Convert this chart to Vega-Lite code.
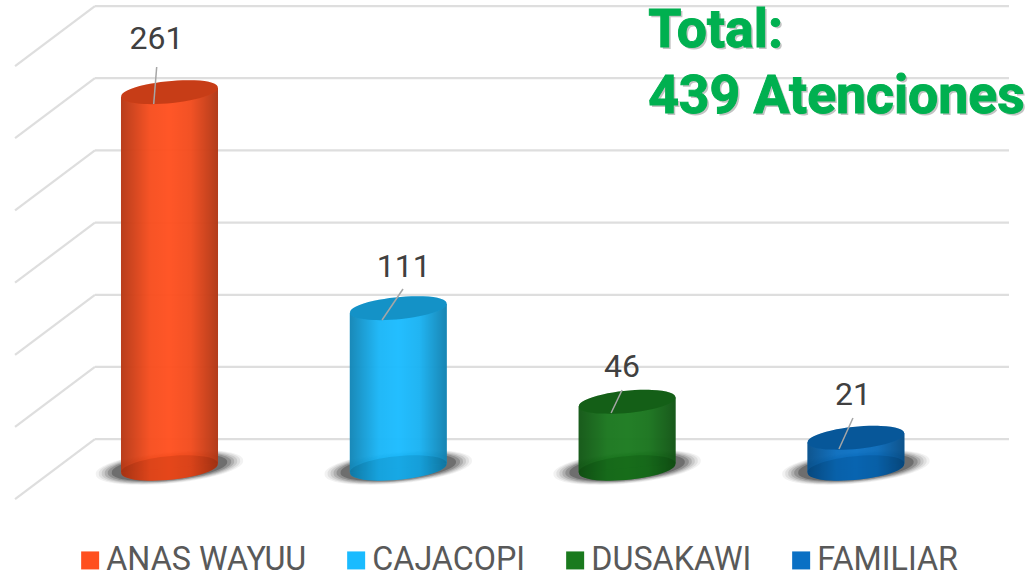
{
"$schema":"https://vega.github.io/schema/vega-lite/v6.json",
"width":1028,"height":574,"padding":0,"autosize":{"type":"none"},"background":"white",
"config":{"view":{"stroke":null},"font":"Roboto"},
"datasets":{
"bars":[{"cat":"ANAS WAYUU","pos":1,"value":261},{"cat":"CAJACOPI","pos":2,"value":111},{"cat":"DUSAKAWI","pos":3,"value":46},{"cat":"FAMILIAR","pos":4,"value":21}],
"walls":[
{"cat":"ANAS WAYUU","edge":0.788,"top":257.9,"bottom":-3.1},{"cat":"ANAS WAYUU","edge":1.212,"top":264.1,"bottom":3.1},
{"cat":"CAJACOPI","edge":1.788,"top":107.9,"bottom":-3.1},{"cat":"CAJACOPI","edge":2.212,"top":114.1,"bottom":3.1},
{"cat":"DUSAKAWI","edge":2.788,"top":42.9,"bottom":-3.1},{"cat":"DUSAKAWI","edge":3.212,"top":49.1,"bottom":3.1},
{"cat":"FAMILIAR","edge":3.788,"top":17.9,"bottom":-3.1},{"cat":"FAMILIAR","edge":4.212,"top":24.1,"bottom":3.1}],
"grid":[
{"xBack":0.674,"xRight":4.669,"xFront":0.325,"vBack":20.1,"vFront":-21.6},
{"xBack":0.674,"xRight":4.669,"xFront":0.325,"vBack":70.2,"vFront":28.5},
{"xBack":0.674,"xRight":4.669,"xFront":0.325,"vBack":120.3,"vFront":78.6},
{"xBack":0.674,"xRight":4.669,"xFront":0.325,"vBack":170.4,"vFront":128.7},
{"xBack":0.674,"xRight":4.669,"xFront":0.325,"vBack":220.6,"vFront":178.9},
{"xBack":0.674,"xRight":4.669,"xFront":0.325,"vBack":270.7,"vFront":229},
{"xBack":0.674,"xRight":4.669,"xFront":0.325,"vBack":320.8,"vFront":279.1}],
"labels":[
{"value":261,"lx":0.943,"lv":291,"x1":0.944,"v1":278.5,"x2":0.931,"v2":252.8},
{"value":111,"lx":2.0235,"lv":132.6,"x1":2.0205,"v1":124.3,"x2":1.929,"v2":102.8},
{"value":46,"lx":2.978,"lv":63,"x1":2.978,"v1":54.2,"x2":2.93,"v2":38.2},
{"value":21,"lx":3.987,"lv":43.75,"x1":3.987,"v1":34.7,"x2":3.926,"v2":13.2}],
"note":[{"line":"Total:","lx":3.092,"lv":292.4},{"line":"439 Atenciones","lx":3.092,"lv":246.5}]
},
"layer":[
{"data":{"name":"grid"},"mark":{"type":"rule","color":"#dedede","strokeWidth":2.2},
 "encoding":{"x":{"field":"xBack","type":"quantitative","axis":null,"scale":{"domain":[0.2592,4.752],"nice":false,"zero":false}},"x2":{"field":"xRight"},"y":{"field":"vBack","type":"quantitative","axis":null,"scale":{"domain":[-73.6,325],"nice":false,"zero":false}}}},
{"data":{"name":"grid"},"mark":{"type":"rule","color":"#dedede","strokeWidth":2.2},
 "encoding":{"x":{"field":"xFront","type":"quantitative"},"x2":{"field":"xBack"},"y":{"field":"vFront","type":"quantitative"},"y2":{"field":"vBack"}}},
{"data":{"name":"bars"},"mark":{"type":"point","filled":true,"opacity":0.07,"color":"#444444","shape":"M-0.995,0.09A1,0.21,-5.5,1,1,0.995,-0.09A1,0.21,-5.5,1,1,-0.995,0.09Z","size":21904},
 "encoding":{"x":{"field":"pos","type":"quantitative"},"y":{"datum":0.5,"type":"quantitative"}}},
{"data":{"name":"bars"},"mark":{"type":"point","filled":true,"opacity":0.1,"color":"#444444","shape":"M-0.995,0.09A1,0.21,-5.5,1,1,0.995,-0.09A1,0.21,-5.5,1,1,-0.995,0.09Z","size":20164},
 "encoding":{"x":{"field":"pos","type":"quantitative"},"y":{"datum":0.5,"type":"quantitative"}}},
{"data":{"name":"bars"},"mark":{"type":"point","filled":true,"opacity":0.14,"color":"#444444","shape":"M-0.995,0.09A1,0.21,-5.5,1,1,0.995,-0.09A1,0.21,-5.5,1,1,-0.995,0.09Z","size":18496},
 "encoding":{"x":{"field":"pos","type":"quantitative"},"y":{"datum":0.5,"type":"quantitative"}}},
{"data":{"name":"bars"},"mark":{"type":"point","filled":true,"opacity":0.2,"color":"#444444","shape":"M-0.995,0.09A1,0.21,-5.5,1,1,0.995,-0.09A1,0.21,-5.5,1,1,-0.995,0.09Z","size":16900},
 "encoding":{"x":{"field":"pos","type":"quantitative"},"y":{"datum":0.5,"type":"quantitative"}}},
{"data":{"name":"bars"},"mark":{"type":"point","filled":true,"opacity":0.28,"color":"#444444","shape":"M-0.995,0.09A1,0.21,-5.5,1,1,0.995,-0.09A1,0.21,-5.5,1,1,-0.995,0.09Z","size":15376},
 "encoding":{"x":{"field":"pos","type":"quantitative"},"y":{"datum":0.5,"type":"quantitative"}}},
{"data":{"name":"bars"},"mark":{"type":"point","filled":true,"opacity":0.45,"color":"#444444","shape":"M-0.995,0.09A1,0.21,-5.5,1,1,0.995,-0.09A1,0.21,-5.5,1,1,-0.995,0.09Z","size":13456},
 "encoding":{"x":{"field":"pos","type":"quantitative"},"y":{"datum":0.5,"type":"quantitative"}}},
{"data":{"name":"bars"},"mark":{"type":"point","filled":true,"opacity":1,"shape":"M-0.995,0.09A1,0.235,-5.5,1,1,0.995,-0.09A1,0.235,-5.5,1,1,-0.995,0.09Z","size":9409},
 "encoding":{"x":{"field":"pos","type":"quantitative"},"y":{"datum":0,"type":"quantitative"},
 "color":{"field":"cat","type":"nominal","scale":{"domain":["ANAS WAYUU","CAJACOPI","DUSAKAWI","FAMILIAR"],"range":["#FF4F1E","#1ABBFF","#1A7A1E","#0A70C4"]},
  "legend":{"title":null,"orient":"none","legendX":74,"legendY":544,"direction":"horizontal","columns":4,"symbolType":"square","symbolSize":324,"symbolOpacity":1,"symbolStrokeWidth":0,"labelFont":"Roboto","labelFontSize":32.3,"labelColor":"#595959","labelOffset":0,"columnPadding":33,"labelLimit":400}}}},
{"data":{"name":"bars"},"mark":{"type":"point","filled":true,"opacity":1,"shape":"M-0.995,0.09A1,0.235,-5.5,1,1,0.995,-0.09A1,0.235,-5.5,1,1,-0.995,0.09Z","size":9409,
 "fill":{"gradient":"linear","x1":0,"y1":0,"x2":1,"y2":0,"stops":[{"offset":0,"color":"rgba(0,0,0,0.28)"},{"offset":0.3,"color":"rgba(0,0,0,0.03)"},{"offset":0.5,"color":"rgba(0,0,0,0)"},{"offset":0.72,"color":"rgba(0,0,0,0.05)"},{"offset":1,"color":"rgba(0,0,0,0.3)"}]}},
 "encoding":{"x":{"field":"pos","type":"quantitative"},"y":{"datum":0,"type":"quantitative"}}},
{"data":{"name":"walls"},"mark":{"type":"area","opacity":0.96},
 "encoding":{"x":{"field":"edge","type":"quantitative"},"y":{"field":"top","type":"quantitative"},"y2":{"field":"bottom"},"detail":{"field":"cat"},
 "color":{"field":"cat","type":"nominal","legend":null}}},
{"data":{"name":"walls"},"mark":{"type":"area","fill":{"gradient":"linear","x1":0,"y1":0,"x2":1,"y2":0,"stops":[{"offset":0,"color":"rgba(0,0,0,0.28)"},{"offset":0.3,"color":"rgba(0,0,0,0.03)"},{"offset":0.5,"color":"rgba(0,0,0,0)"},{"offset":0.72,"color":"rgba(0,0,0,0.05)"},{"offset":1,"color":"rgba(0,0,0,0.3)"}]}},
 "encoding":{"x":{"field":"edge","type":"quantitative"},"y":{"field":"top","type":"quantitative"},"y2":{"field":"bottom"},"detail":{"field":"cat"}}},
{"data":{"name":"bars"},"mark":{"type":"point","filled":true,"opacity":0.1,"color":"#000000","shape":"M-0.995,0.09A1,0.235,-5.5,1,1,0.995,-0.09A1,0.235,-5.5,1,1,-0.995,0.09Z","size":9409},
 "encoding":{"x":{"field":"pos","type":"quantitative"},"y":{"datum":0,"type":"quantitative"}}},
{"data":{"name":"bars"},"mark":{"type":"point","filled":true,"opacity":1,"shape":"M-0.995,0.09A1,0.22,-5.5,1,1,0.995,-0.09A1,0.22,-5.5,1,1,-0.995,0.09Z","size":9409},
 "encoding":{"x":{"field":"pos","type":"quantitative"},"y":{"field":"value","type":"quantitative"},"color":{"field":"cat","type":"nominal","legend":null}}},
{"data":{"name":"bars"},"mark":{"type":"point","filled":true,"opacity":0.22,"color":"#000000","shape":"M-0.995,0.09A1,0.22,-5.5,1,1,0.995,-0.09A1,0.22,-5.5,1,1,-0.995,0.09Z","size":9409},
 "encoding":{"x":{"field":"pos","type":"quantitative"},"y":{"field":"value","type":"quantitative"}}},
{"data":{"name":"labels"},"mark":{"type":"rule","color":"#a6a6a6","strokeWidth":1.5},
 "encoding":{"x":{"field":"x1","type":"quantitative"},"x2":{"field":"x2"},"y":{"field":"v1","type":"quantitative"},"y2":{"field":"v2"}}},
{"data":{"name":"labels"},"mark":{"type":"text","font":"Roboto","fontSize":32,"color":"#404040","align":"center","baseline":"alphabetic"},
 "encoding":{"x":{"field":"lx","type":"quantitative"},"y":{"field":"lv","type":"quantitative"},"text":{"field":"value","type":"nominal"}}},
{"data":{"name":"note"},"mark":{"type":"text","font":"Roboto","fontSize":53.5,"fontWeight":"bold","color":"#555555","opacity":0.35,"dx":2,"dy":2,"align":"left","baseline":"alphabetic"},
 "encoding":{"x":{"field":"lx","type":"quantitative"},"y":{"field":"lv","type":"quantitative"},"text":{"field":"line","type":"nominal"}}},
{"data":{"name":"note"},"mark":{"type":"text","font":"Roboto","fontSize":53.5,"fontWeight":"bold","color":"#00B050","stroke":"#00B050","strokeWidth":1,"align":"left","baseline":"alphabetic"},
 "encoding":{"x":{"field":"lx","type":"quantitative"},"y":{"field":"lv","type":"quantitative"},"text":{"field":"line","type":"nominal"}}}
]
}
